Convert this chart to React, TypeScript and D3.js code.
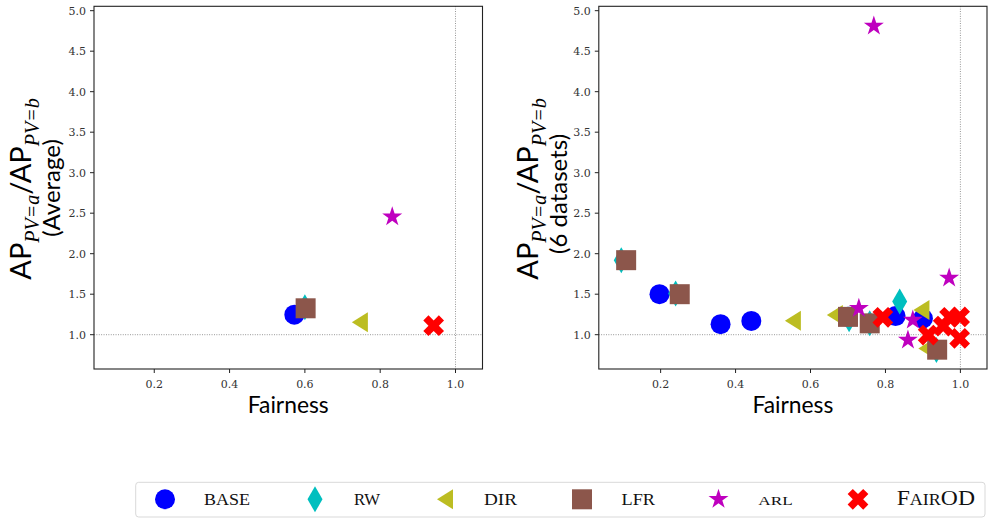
import React from 'react';
import * as d3 from 'd3';

// ---------- data ----------
const methods = ['BASE', 'RW', 'DIR', 'LFR', 'ARL', 'FairOD'];
const colors = ['#0000ff', '#00bfbf', '#bcbd22', '#8c564b', '#bf00bf', '#ff0000'];

// Left panel: average over datasets (one point per method)
const avgFairness = [0.572, 0.600, 0.746, 0.602, 0.832, 0.942];
const avgRatio = [1.247, 1.34, 1.153, 1.326, 2.457, 1.111];

// Right panel: 6 datasets per method (hidden points omitted)
const baseX = [0.197, 0.36, 0.442, 0.70, 0.827, 0.90];
const baseY = [1.50, 1.13, 1.17, 1.22, 1.23, 1.20];
const rwX = [0.095, 0.24, 0.703, 0.758, 0.838, 0.936];
const rwY = [1.92, 1.51, 1.19, 1.14, 1.41, 0.81];
const dirX = [0.553, 0.665, 0.896, 0.909];
const dirY = [1.173, 1.243, 1.305, 0.83];
const lfrX = [0.108, 0.251, 0.70, 0.758, 0.938];
const lfrY = [1.92, 1.50, 1.22, 1.14, 0.815];
const arlX = [0.769, 0.729, 0.873, 0.86, 0.97];
const arlY = [4.81, 1.325, 1.18, 0.935, 1.70];
const fairodX = [0.793, 0.914, 0.954, 0.971, 0.998, 0.998];
const fairodY = [1.215, 0.996, 1.107, 1.215, 1.22, 0.955];

const xTicks = [0.2, 0.4, 0.6, 0.8, 1.0];
const yTicks = [1.0, 1.5, 2.0, 2.5, 3.0, 3.5, 4.0, 4.5, 5.0];

// ---------- marker shapes ----------
const triLeft = {
  draw(ctx: any, size: number) {
    const h = Math.sqrt(size) / 2; // half height
    const w = h * 0.8;
    ctx.moveTo(-w, 0);
    ctx.lineTo(w, -h);
    ctx.lineTo(w, h);
    ctx.closePath();
  },
};
const xFilled = {
  draw(ctx: any, size: number) {
    const u = Math.sqrt(size) / 4;
    const pts = [[-1, -2], [0, -1], [1, -2], [2, -1], [1, 0], [2, 1], [1, 2], [0, 1], [-1, 2], [-2, 1], [-1, 0], [-2, -1]];
    pts.forEach((p, i) => (i === 0 ? ctx.moveTo(p[0] * u, p[1] * u) : ctx.lineTo(p[0] * u, p[1] * u)));
    ctx.closePath();
  },
};
const symbolTypes: any[] = [d3.symbolCircle, d3.symbolDiamond, triLeft, d3.symbolSquare, d3.symbolStar, xFilled];
const symbolSizes = [Math.PI * 100, 195, 400, 400, 124, 430];
const symbolPaths = symbolTypes.map((t, i) => d3.symbol().type(t).size(symbolSizes[i])()!);

const rightSeries = [
  [baseX, baseY],
  [rwX, rwY],
  [dirX, dirY],
  [lfrX, lfrY],
  [arlX, arlY],
  [fairodX, fairodY],
];

// ---------- layout ----------
const W = 990;
const H = 518;
const yDomain: [number, number] = [0.5765, 5.054];
const plotTop = 6.3;
const plotBottom = 369;

const SANS = 'Lato, "Open Sans", sans-serif';
const SERIF = '"DejaVu Serif", serif';
const LSERIF = '"Liberation Serif", serif';

function Panel({ left, right, xDomain, points, line2, line2Center, labelOffset }: any) {
  const x = d3.scaleLinear().domain(xDomain).range([left, right]);
  const y = d3.scaleLinear().domain(yDomain).range([plotBottom, plotTop]);
  const cy = (plotTop + plotBottom) / 2;
  const cx = (left + right) / 2;
  return (
    <g>
      {/* reference lines */}
      <line x1={x(1.0)} x2={x(1.0)} y1={plotTop} y2={plotBottom} stroke="#808080" strokeWidth={0.9} strokeDasharray="0.9,1.5" />
      <line x1={left} x2={right} y1={y(1.0)} y2={y(1.0)} stroke="#808080" strokeWidth={0.9} strokeDasharray="0.9,1.5" />
      {/* markers */}
      {points.map((pts: any[], i: number) =>
        pts.map((p: any, j: number) => (
          <path key={i + '-' + j} d={symbolPaths[i]} transform={`translate(${x(p[0])},${y(p[1])})`} fill={colors[i]} />
        ))
      )}
      {/* frame */}
      <rect x={left} y={plotTop} width={right - left} height={plotBottom - plotTop} fill="none" stroke="#222" strokeWidth={1.1} />
      {/* y ticks */}
      {yTicks.map((t) => (
        <g key={'y' + t}>
          <line x1={left - 4} x2={left} y1={y(t)} y2={y(t)} stroke="#222" strokeWidth={1} />
          <text x={left - 8} y={y(t)} dy="0.36em" textAnchor="end" fontFamily={SERIF} fontSize={11} fill="#333">
            {t.toFixed(1)}
          </text>
        </g>
      ))}
      {/* x ticks */}
      {xTicks.map((t) => (
        <g key={'x' + t}>
          <line x1={x(t)} x2={x(t)} y1={plotBottom} y2={plotBottom + 4} stroke="#222" strokeWidth={1} />
          <text x={x(t)} y={388.3} textAnchor="middle" fontFamily={SERIF} fontSize={11} fill="#333">
            {t.toFixed(1)}
          </text>
        </g>
      ))}
      {/* x label */}
      <text x={cx} y={413.3} textAnchor="middle" fontFamily={SANS} fontSize={23} textLength={81} lengthAdjust="spacingAndGlyphs" fill="#000">
        Fairness
      </text>
      {/* y label line 1 */}
      <text transform={`translate(${labelOffset + 31},${189}) rotate(-90)`} textAnchor="middle" fill="#000">
        <tspan fontFamily={SANS} fontSize={29}>AP</tspan>
        <tspan fontFamily={LSERIF} fontStyle="italic" fontSize={20} dy={8}>PV=a</tspan>
        <tspan fontFamily={SANS} fontSize={29} dy={-8}>/AP</tspan>
        <tspan fontFamily={LSERIF} fontStyle="italic" fontSize={20} dy={8}>PV=b</tspan>
      </text>
      {/* y label line 2 */}
      <text transform={`translate(${labelOffset + 60},${line2Center}) rotate(-90)`} textAnchor="middle" fontFamily={SANS} fontSize={24} fill="#000">
        {line2}
      </text>
    </g>
  );
}

export default function App() {
  const leftPoints = methods.map((_, i) => [[avgFairness[i], avgRatio[i]]]);
  const rightPoints = rightSeries.map(([xs, ys]) => xs.map((v, k) => [v, ys[k]]));

  // legend layout
  const legendMarkerX = [165, 315, 445, 582, 718.5, 858];
  const legendY = 499.3;
  const textBaseline = 505;

  return (
    <svg width={W} height={H} style={{ position: 'absolute', left: 0, top: 0, background: '#fff' }}>
      <rect x={0} y={0} width={W} height={H} fill="#fff" />
      <Panel left={94} right={482.5} xDomain={[0.04, 1.0717]} points={leftPoints} line2="(Average)" line2Center={188} labelOffset={0} />
      <Panel left={598.8} right={987} xDomain={[0.035, 1.071]} points={rightPoints} line2="(6 datasets)" line2Center={194} labelOffset={507} />

      {/* legend */}
      <rect x={135.7} y={482.3} width={849.3} height={34.7} rx={3} fill="#fff" stroke="#d9d9d9" strokeWidth={1} />
      {methods.map((m, i) => (
        <path key={'lm' + m} d={symbolPaths[i]} transform={`translate(${legendMarkerX[i]},${legendY})`} fill={colors[i]} />
      ))}
      <text x={204} y={textBaseline} fontFamily={LSERIF} fontSize={16.5} textLength={46} lengthAdjust="spacingAndGlyphs" fill="#111">BASE</text>
      <text x={354} y={textBaseline} fontFamily={LSERIF} fontSize={16.5} textLength={26} lengthAdjust="spacingAndGlyphs" fill="#111">RW</text>
      <text x={484} y={textBaseline} fontFamily={LSERIF} fontSize={16.5} textLength={33} lengthAdjust="spacingAndGlyphs" fill="#111">DIR</text>
      <text x={621.5} y={textBaseline} fontFamily={LSERIF} fontSize={16.5} textLength={33.5} lengthAdjust="spacingAndGlyphs" fill="#111">LFR</text>
      <text x={758.3} y={textBaseline} fontFamily={LSERIF} fontSize={12.5} textLength={34.4} lengthAdjust="spacingAndGlyphs" fill="#111">ARL</text>
      <text x={896.7} y={textBaseline} fontFamily={LSERIF} fill="#111" textLength={78.3} lengthAdjust="spacingAndGlyphs">
        <tspan fontSize={21}>F</tspan>
        <tspan fontSize={16}>AIR</tspan>
        <tspan fontSize={21}>OD</tspan>
      </text>
    </svg>
  );
}
